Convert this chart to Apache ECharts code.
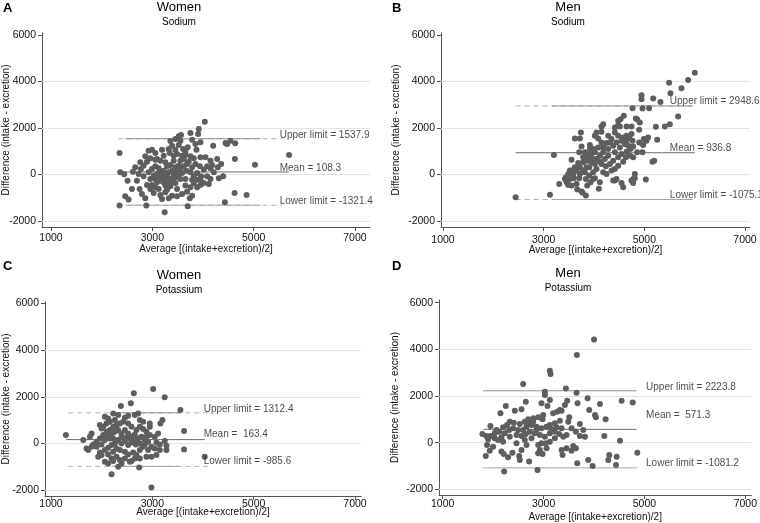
<!DOCTYPE html>
<html>
<head>
<meta charset="utf-8">
<script src="https://cdn.jsdelivr.net/npm/echarts/dist/echarts.min.js"></script>
<style>
  html, body { margin: 0; padding: 0; background: #fff; }
  #main { width: 760px; height: 523px; }
</style>
</head>
<body>
<div id="main"></div>
<script>
// tick values shared by every panel
var tickX = [1000, 3000, 5000, 7000];
var tickY = [-2000, 0, 2000, 4000, 6000];
var gridY = [-2000, 0, 2000, 4000];

// [average, difference]
var womenSodium = [
  [4036,2273],[3917,1957],[3904,1743],[3752,1786],[3567,1700],[3521,1642],[3455,1528],[3356,1442],[3785,1499],[3950,1384],
  [4478,1313],[4544,1456],[4636,1341],[2353,926],[5699,840],[5026,424],[4630,668],[4201,1241],[4861,-880],[4623,-794],
  [4432,-1195],[2353,-1338],[2881,-1338],[3244,-1625],[3699,-1367],[2366,95],[2445,9],[2511,-264],[2465,-937],[2531,-1080],
  [2597,-622],[2663,310],[2749,-622],[2795,-837],[2861,-1023],[2894,553],[2861,783],[2927,1026],[2993,1069],[3059,926],
  [3092,668],[3191,1069],[3224,811],[3257,524],[3158,596],[3343,926],[3389,1241],[3455,1069],[3488,883],[3521,1270],
  [3607,1098],[3653,983],[3699,1169],[3752,783],[3719,553],[3818,696],[3871,1069],[3950,739],[4049,739],[4148,596],
  [4181,410],[4082,353],[4016,209],[3963,-77],[4082,-77],[4148,-192],[4293,310],[4359,453],[4313,-163],[4399,-77],
  [3897,-221],[3818,-364],[3752,-550],[3686,-737],[3739,-1023],[3587,-837],[3488,-622],[3389,-909],[3323,-1023],[3257,-765],
  [3158,-880],[3125,-622],[3059,-550],[2993,-450],[2960,-192],[3026,-49],[3092,23],[3158,95],[3224,166],[3290,-49],
  [3356,-192],[3422,-49],[3488,95],[3554,238],[3620,353],[3554,-192],[3455,-364],[3356,-507],[3224,-335],[3158,-264],
  [3290,-651],[2729,23],[2775,238],[2828,381],[2828,-77],[2927,95],[2993,238],[3059,353],[3125,267],[3191,-120],
  [3257,-192],[3323,-364],[3389,-307],[3455,-120],[3521,-20],[3587,66],[3673,166],[3752,95],[3818,-77],[3884,66],
  [3937,353],[3851,453],[3785,310],[3686,453],[3620,668],[3554,596],[3422,596],[3356,410],[3290,353],[2960,-622],
  [3026,-794],[3092,-335],[2894,-450],[3653,-478],[3884,-550],[4016,-364],[4115,-407],[3950,-450],[3785,-221],[3653,-192],
  [3059,-192],[3125,-49],[3191,23],[3257,-478],[3323,95],[3389,166],[3455,310],[3521,381],[3587,811],[3653,840],
  [3422,811],[2617,123],[2696,-264],[3554,1456],[3851,1313],[3323,1098],[3059,639],[2960,696],[2762,524],[3785,-909],
  [3488,-937],[3191,-1052],[4445,1356],[4280,668],[4148,267],[4214,95],[3950,-192]
];
var menSodium = [
  [6002,4377],[5870,4063],[5737,3706],[5492,3949],[5519,3492],[5320,3121],[5175,3264],[4943,3407],[4943,3235],[5095,2850],
  [4765,2850],[5671,2493],[5506,2165],[5407,2065],[5228,2051],[5254,1495],[5161,553],[5195,596],[5029,-218],[4963,952],
  [4778,-190],[4811,25],[4579,-546],[4381,-261],[4096,-618],[3838,-903],[3772,-789],[3124,-875],[2442,-974],[3203,838],
  [3620,1552],[3719,1552],[3739,1808],[3309,-404],[3441,-118],[3521,167],[3554,638],[3706,952],[3918,1266],[4017,1666],
  [4050,1808],[4149,2065],[4182,2165],[4480,2308],[4593,2522],[4513,2065],[4646,2065],[4745,2065],[4857,2379],[4910,2237],
  [4897,1923],[4745,1737],[4646,1666],[4480,1666],[4414,1808],[4348,1523],[4248,1352],[4149,1380],[4083,1166],[3984,1095],
  [3918,881],[3851,738],[3785,524],[3719,310],[3653,167],[3587,25],[3521,-190],[3455,-332],[3554,-475],[3653,-404],
  [3706,-161],[3818,96],[3905,310],[3951,524],[4050,667],[4116,809],[4182,952],[4282,1095],[4381,1238],[4447,1380],
  [4546,1452],[4612,1309],[4679,1238],[4725,1095],[4646,981],[4546,881],[4480,738],[4381,595],[4315,453],[4235,353],
  [4149,453],[4050,239],[3984,96],[3905,-47],[3838,-190],[3865,-475],[3931,-332],[4017,-161],[4414,239],[4480,381],
  [4579,553],[4632,738],[4712,809],[4778,738],[4857,952],[4976,1266],[5042,1452],[5075,1595],[4989,1523],[4897,1380],
  [4778,1209],[4765,1452],[4513,1166],[4414,952],[4282,809],[4215,667],[4116,553],[4017,453],[3951,738],[3865,595],
  [3785,738],[3686,496],[3620,310],[3554,167],[3488,25],[3422,-190],[3666,-646],[3752,-732],[4182,96],[4248,25],
  [4348,167],[4447,-190],[4546,-361],[4745,-261],[4811,-161],[4149,1837],[4083,1552],[4282,1666],[4414,2023],[4480,2123],
  [4527,2379],[4831,2408],[4963,2836],[4646,1452],[4699,1595],[4579,1595],[4017,952],[3918,1095],[3818,952],[3752,1209],
  [4182,1166],[4315,1380],[3851,310],[3785,167],[3719,25],[3600,-161],[3488,-447],[3984,-190],[4116,-332],[4414,-261],
  [4778,-361]
];
var womenPotassium = [
  [3016,2335],[3245,1977],[2635,2149],[2576,1719],[2379,1605],[3554,1432],[2228,1289],[1295,358],[1637,143],[3626,530],
  [3626,-258],[4034,-574],[2195,-1319],[2983,-1892],[2740,-1032],[2326,-1004],[3199,1003],[3160,859],[2950,859],[2950,716],
  [2720,1289],[2654,1217],[2458,1103],[2064,1146],[2129,1074],[1965,788],[1998,645],[1801,430],[1768,286],[1735,-287],
  [1801,-144],[1965,-387],[1932,-574],[2064,-789],[2129,-860],[2228,-760],[2392,-860],[2556,-789],[2589,-760],[2753,-645],
  [2884,-574],[2983,-574],[3081,-502],[3278,-287],[3278,-101],[3147,-43],[3245,100],[3081,43],[2950,358],[2884,501],
  [2819,616],[2753,716],[2687,573],[2589,716],[2523,859],[2425,931],[2359,859],[2293,788],[2228,716],[2162,573],
  [2096,501],[2031,358],[1965,215],[1899,71],[1899,-144],[1998,-43],[2064,143],[2129,286],[2195,387],[2261,501],
  [2326,573],[2392,430],[2458,573],[2523,430],[2589,286],[2654,387],[2720,215],[2786,286],[2851,143],[2917,71],
  [2983,-144],[2917,-287],[2819,-144],[2753,-287],[2674,-43],[2589,43],[2523,-72],[2458,100],[2392,0],[2326,143],
  [2261,0],[2195,-72],[2129,-187],[2064,-287],[2129,-473],[2228,-359],[2293,-215],[2359,-287],[2458,-359],[2523,-473],
  [2622,-387],[2687,-502],[2654,-645],[2458,-645],[2293,-574],[2195,-645],[2162,215],[2228,215],[2490,243],[2556,215],
  [2753,0],[2851,-72],[3048,-215],[3147,-287],[2031,716],[2096,859],[2162,931],[2261,1003],[2523,1189],[2753,1003],
  [2819,931],[2326,1217],[2392,286],[2654,143],[2884,286],[1834,-43],[1702,-215],[2359,-717],[1998,-502],[3048,286],
  [3114,430]
];
var menPotassium = [
  [4000,4424],[3661,3754],[3125,3083],[3138,2940],[2595,2512],[3443,2327],[3654,2141],[3026,2184],[3026,2041],[3469,1799],
  [3674,1685],[3873,1899],[4548,1799],[4767,1727],[4118,1656],[3906,1399],[4019,1185],[4038,1085],[4230,1000],[2251,1571],
  [2145,1256],[2430,1371],[2562,1428],[2648,1756],[2959,1685],[3125,1828],[3078,1571],[3270,1328],[3357,1371],[3191,1257],
  [2992,1185],[2893,1085],[2794,1043],[2695,1000],[2628,900],[2529,800],[2410,857],[2330,900],[2277,757],[2198,657],
  [1946,714],[1788,372],[1867,286],[1946,286],[2032,186],[1900,143],[1880,-100],[1999,-171],[1933,-342],[1854,-570],
  [2165,-384],[2211,-485],[2383,-428],[2297,-627],[2516,-570],[2562,-313],[2529,-741],[2714,-813],[2218,-1241],[2880,-1170],
  [2893,-456],[2926,-313],[2979,-485],[3045,-28],[3125,43],[3224,186],[3357,-313],[3376,-527],[3588,-142],[3555,-342],
  [3668,-884],[3972,-998],[4303,-527],[4283,-741],[4449,-599],[4436,-955],[4859,-428],[4515,86],[4204,286],[3820,257],
  [3720,286],[3641,472],[3555,614],[3489,900],[3509,1085],[3324,943],[3224,829],[3125,757],[3059,686],[2959,614],
  [2860,686],[2761,757],[2661,686],[2595,543],[2496,543],[2397,614],[2317,543],[2231,400],[2165,229],[2099,115],
  [2198,43],[2330,257],[2463,329],[2562,286],[2648,372],[2728,472],[2827,400],[2926,329],[3026,257],[3125,400],
  [3224,472],[3310,372],[3390,257],[3456,329],[3257,657],[3158,572],[2714,829],[2794,900],[2860,543],[2959,-28],
  [2893,-100],[3059,-242],[2463,-28],[2628,115],[2761,186],[2661,-100],[3423,1614],[3324,1399],[3787,543],[3720,800],
  [3357,614],[2979,1000],[2066,543],[2032,400],[2119,472],[3456,-242],[3641,-242],[3886,-741]
];

// upper limit, mean, lower limit
var limWomenSodium = [1537.9, 108.3, -1321.4];
var limMenSodium = [2948.6, 936.8, -1075.1];
var limWomenPotassium = [1312.4, 163.4, -985.6];
var limMenPotassium = [2223.8, 571.3, -1081.2];

// x extent of mean line, dashed limit line, solid limit line
var spanWomenSodium = [[2353, 5699], [2330, 5570], [2470, 5140]];
var spanMenSodium = [[2442, 6002], [2442, 5960], [3160, 5960]];
var spanWomenPotassium = [[1295, 4034], [1340, 4090], [2200, 3550]];
var spanMenPotassium = [[1801, 4846], null, [1801, 4846]];

var FF = "'Liberation Sans', Arial, Helvetica, sans-serif";

var panels = [
  { letter: 'A', title: 'Women', sub: 'Sodium', pts: womenSodium, lim: limWomenSodium, span: spanWomenSodium,
    grid: { left: 42, top: 33, width: 328, height: 194 }, x: [822, 7297], y: [-2258, 6086],
    letterXY: [3, 8], titleX: 179, titleY: [7, 22], labelX: 5514, labelOff: [-3, -4, -4],
    yGap: 31, xGap: 17.5, xMargin: 6, meanText: 'Mean = ' },
  { letter: 'B', title: 'Men', sub: 'Sodium', pts: menSodium, lim: limMenSodium, span: spanMenSodium,
    grid: { left: 441, top: 33, width: 309, height: 194 }, x: [960, 7099], y: [-2258, 6086],
    letterXY: [392, 8], titleX: 568, titleY: [7, 22], labelX: 5506, labelOff: [-5, -4, -4],
    yGap: 40, xGap: 18.5, xMargin: 8, meanText: 'Mean = ' },
  { letter: 'C', title: 'Women', sub: 'Potassium', pts: womenPotassium, lim: limWomenPotassium, span: spanWomenPotassium,
    grid: { left: 45, top: 302, width: 316, height: 194 }, x: [882, 7118], y: [-2257, 6069],
    letterXY: [3, 266], titleX: 179, titleY: [275, 290], labelX: 4014, labelOff: [-4, -5, -5],
    yGap: 34, xGap: 11, xMargin: 3, meanText: 'Mean =  ' },
  { letter: 'D', title: 'Men', sub: 'Potassium', pts: menPotassium, lim: limMenPotassium, span: spanMenPotassium,
    grid: { left: 439, top: 300, width: 313, height: 195 }, x: [927, 7119], y: [-2244, 6116],
    letterXY: [392, 266], titleX: 568, titleY: [273, 288], labelX: 5032, labelOff: [-4, -14, -5],
    yGap: 39, xGap: 17, xMargin: 4, meanText: 'Mean =  ' }
];

var grids = [], xAxes = [], yAxes = [], series = [], graphics = [];

function plain(v) { return String(v); }

function seg(i, x0, x1, y, color, dashed, z) {
  return {
    type: 'line', xAxisIndex: i, yAxisIndex: i, data: [[x0, y], [x1, y]],
    symbol: 'none', showSymbol: false, silent: true, z: z,
    lineStyle: { color: color, width: 1, type: dashed ? [5, 4] : 'solid' }
  };
}

panels.forEach(function (p, i) {
  grids.push(p.grid);
  xAxes.push({
    type: 'value', gridIndex: i, min: p.x[0], max: p.x[1],
    name: 'Average [(intake+excretion)/2]', nameLocation: 'middle', nameGap: p.xGap, nameMoveOverlap: false,
    nameTextStyle: { fontSize: 10, color: '#111', fontFamily: FF },
    axisLine: { show: true, onZero: false, lineStyle: { color: '#555', width: 1 } },
    axisTick: { show: true, customValues: tickX, length: 4, lineStyle: { color: '#555' } },
    axisLabel: { customValues: tickX, formatter: plain, fontSize: 10.5, color: '#111', margin: p.xMargin, fontFamily: FF },
    splitLine: { show: false }
  });
  yAxes.push({
    type: 'value', gridIndex: i, min: p.y[0], max: p.y[1],
    name: 'Difference (intake - excretion)', nameLocation: 'middle', nameGap: p.yGap, nameMoveOverlap: false,
    nameTextStyle: { fontSize: 10, color: '#111', fontFamily: FF },
    axisLine: { show: true, onZero: false, lineStyle: { color: '#555', width: 1 } },
    axisTick: { show: true, customValues: tickY, length: 4, lineStyle: { color: '#555' } },
    axisLabel: { customValues: tickY, formatter: plain, fontSize: 10.5, color: '#111', margin: 6, fontFamily: FF },
    splitLine: { show: false }
  });

  // light horizontal grid lines
  series.push({
    type: 'scatter', xAxisIndex: i, yAxisIndex: i, data: [], silent: true, z: 1,
    markLine: {
      symbol: 'none', silent: true, label: { show: false },
      lineStyle: { color: '#e4e4e4', type: 'solid', width: 1 },
      data: gridY.map(function (v) { return { yAxis: v }; })
    }
  });

  // limits of agreement: dashed full extent, solid over most of it
  [0, 2].forEach(function (k) {
    if (p.span[1]) series.push(seg(i, p.span[1][0], p.span[1][1], p.lim[k], '#b4b4b4', true, 2));
    series.push(seg(i, p.span[2][0], p.span[2][1], p.lim[k], k === 0 ? '#909090' : '#a6a6a6', false, 3));
  });
  series.push(seg(i, p.span[0][0], p.span[0][1], p.lim[1], '#6e6e6e', false, 3));

  series.push({
    type: 'scatter', xAxisIndex: i, yAxisIndex: i, data: p.pts, symbolSize: 6, z: 5,
    itemStyle: { color: '#5e5e5e', opacity: 1 }
  });

  var names = ['Upper limit = ', p.meanText, 'Lower limit = '];
  series.push({
    type: 'scatter', xAxisIndex: i, yAxisIndex: i, symbolSize: 0, silent: true, z: 6,
    data: p.lim.map(function (v, k) {
      return {
        value: [p.labelX, v],
        label: { offset: [0, p.labelOff[k]] },
        name: names[k] + v.toFixed(1)
      };
    }),
    label: {
      show: true, position: 'right', distance: 0, color: '#1a1a1a', fontSize: 10, fontFamily: FF,
      formatter: function (d) { return d.name; }
    }
  });

  graphics.push({
    type: 'text', x: p.letterXY[0], y: p.letterXY[1],
    style: { text: p.letter, font: 'bold 13px ' + FF, fill: '#000', textAlign: 'left', textVerticalAlign: 'middle', align: 'left', verticalAlign: 'middle' }
  });
  graphics.push({
    type: 'text', x: p.titleX, y: p.titleY[0],
    style: { text: p.title, font: '13px ' + FF, fill: '#000', textAlign: 'center', textVerticalAlign: 'middle', align: 'center', verticalAlign: 'middle' }
  });
  graphics.push({
    type: 'text', x: p.titleX, y: p.titleY[1],
    style: { text: p.sub, font: '10px ' + FF, fill: '#000', textAlign: 'center', textVerticalAlign: 'middle', align: 'center', verticalAlign: 'middle' }
  });
});

var chart = echarts.init(document.getElementById('main'), null, { renderer: 'canvas' });
chart.setOption({
  animation: false,
  backgroundColor: '#fff',
  grid: grids,
  xAxis: xAxes,
  yAxis: yAxes,
  series: series,
  graphic: graphics
});
</script>
</body>
</html>
